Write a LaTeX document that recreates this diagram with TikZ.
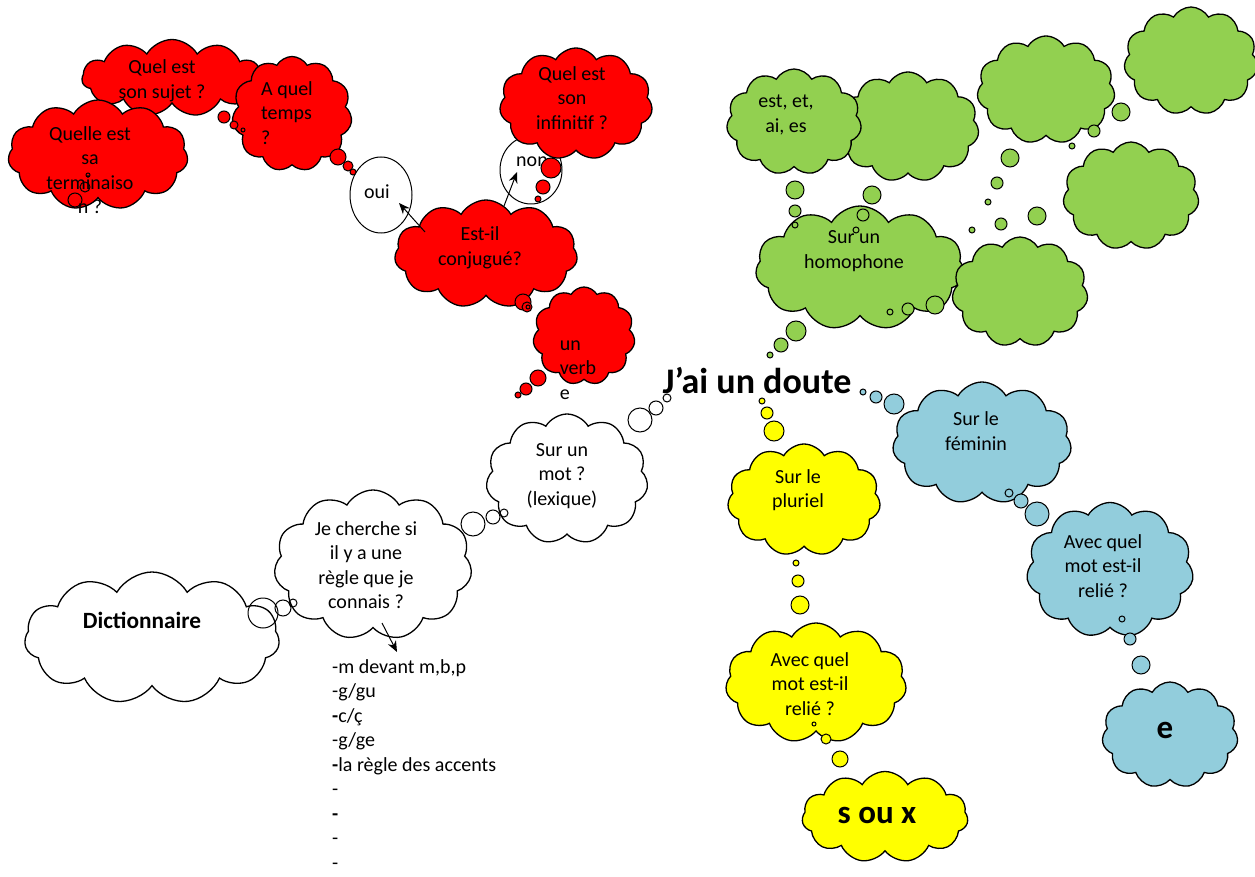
\documentclass[tikz,border=0pt]{standalone}
\usepackage{fontspec}
\setmainfont{Carlito}
\usetikzlibrary{shapes.symbols, shapes.geometric, arrows.meta}
\definecolor{cloudred}{RGB}{255,0,0}
\definecolor{cloudgreen}{RGB}{146,208,80}
\definecolor{cloudblue}{RGB}{146,205,220}
\definecolor{cloudyellow}{RGB}{255,255,0}
\tikzstyle{puff} = [cloud, cloud puffs=11, cloud puff arc=120, draw=black, line width=1.3pt, inner sep=0pt]
\tikzstyle{redpuff} = [puff, fill=cloudred]
\tikzstyle{greenpuff} = [puff, fill=cloudgreen]
\tikzstyle{bluepuff} = [puff, fill=cloudblue]
\tikzstyle{yellowpuff} = [puff, fill=cloudyellow]
\tikzstyle{whitepuff} = [puff, fill=white]
\tikzstyle{bubble} = [draw=black, line width=1pt]
\tikzstyle{txt} = [align=center, inner sep=0pt, font=\fontsize{20}{24.5}\selectfont]
\tikzstyle{bigtxt} = [inner sep=0pt, font=\fontsize{33}{38}\selectfont\bfseries]
\tikzstyle{arrow} = [line width=1pt,->,>={Stealth[length=11pt,width=9pt]}]

\begin{document}
\begin{tikzpicture}[x=1pt, y=-1pt]
\useasboundingbox (0,0) rectangle (1255,877);

% red branch
\node (sujet) [redpuff, minimum width=180pt, minimum height=77pt] at (172,78) {};
\node (temps) [redpuff, minimum width=120pt, minimum height=115pt] at (292,114) {};
\node (termin) [redpuff, minimum width=180pt, minimum height=110pt] at (98,155) {};
\node (oui) [ellipse, draw=black, line width=1pt, fill=white, minimum width=62pt, minimum height=76pt] at (381,195) {};
\node (non) [ellipse, draw=black, line width=1pt, fill=white, minimum width=62pt, minimum height=68pt] at (531,170) {};
\node (non-t) [txt] at (532,162) {non};
\node (infin) [redpuff, minimum width=153pt, minimum height=112pt] at (576,104) {};
\node (conj) [redpuff, minimum width=183pt, minimum height=108pt] at (486,254) {};
\node (verbe) [redpuff, minimum width=102pt, minimum height=98pt] at (584,336) {};
\foreach \x/\y/\r in {224/117/6, 234/125/4, 243/130/2, 338/157/8, 348/166/5, 353/172/3,
  75/200/7, 85/187/5, 88/175/2, 551/168/10, 543/187/7, 538/199/3,
  523/302/8, 527/307/5, 528/307/2, 538/378/8, 526/389/6, 518/395/3}
  \draw[bubble, fill=cloudred] (\x,\y) circle (\r);
\node (sujet-t) [txt] at (162,81) {Quel est\\son sujet ?};
\node (temps-t) [txt, align=left] at (287,113) {A quel\\temps\\?};
\node (termin-t) [txt] at (90,170) {Quelle est\\sa\\terminaiso\\n ?};
\node (infin-t) [txt] at (572,98) {Quel est\\son\\infinitif ?};
\node (oui-t) [txt] at (377,192) {oui};
\node (conj-t) [txt] at (480,248) {Est-il\\conjugué?};
\node (verbe-t) [txt, align=left] at (578,370) {un\\verb\\e};
\coordinate (oui-from) at (425,232);
\coordinate (oui-to) at (399,203);
\coordinate (non-from) at (504,206);
\coordinate (non-to) at (517,172);
\draw [arrow] (oui-from) -- (oui-to);
\draw [arrow] (non-from) -- (non-to);

% green branch
\node (vert2) [greenpuff, minimum width=142pt, minimum height=110pt] at (908,127) {};
\node (homo) [greenpuff, minimum width=135pt, minimum height=106pt] at (794,122) {};
\node (vert3) [greenpuff, minimum width=138pt, minimum height=108pt] at (1046,90) {};
\node (vert4) [greenpuff, minimum width=134pt, minimum height=108pt] at (1191,61) {};
\node (vert5) [greenpuff, minimum width=136pt, minimum height=108pt] at (1131,196) {};
\node (homophone) [greenpuff, minimum width=209pt, minimum height=124pt] at (860,268) {};
\node (vert7) [greenpuff, minimum width=136pt, minimum height=110pt] at (1020,292) {};
\foreach \x/\y/\r in {795/190/9, 795/211/6, 795/225/3, 872/195/9, 863/215/6, 856/230/3,
  1010/158/9, 997/183/6, 988/202/3, 1121/112/9, 1094/131/6, 1072/146/3,
  1037/216/9, 1001/224/6, 972/230/3, 935/305/9, 908/309/6, 890/312/3,
  796/331/10, 781/345/7, 770/355/3}
  \draw[bubble, fill=cloudgreen] (\x,\y) circle (\r);
\node (homo-t) [txt] at (786,115) {est, et,\\ai, es};
\node (homophone-t) [txt] at (854,251) {Sur un\\homophone};

% centre
\node (doute) [inner sep=0pt, font=\fontsize{36}{40}\selectfont\bfseries] at (757,381) {J’ai un doute};

% white branch
\node (lexique) [whitepuff, minimum width=162pt, minimum height=130pt] at (567,479) {};
\node (regle) [whitepuff, minimum width=198pt, minimum height=150pt] at (373,565) {};
\node (dico) [whitepuff, minimum width=255pt, minimum height=132pt] at (152,638) {};
\foreach \x/\y/\r in {640/420/12, 656/408/7, 667/398/4, 473/524/12, 493/517/7, 504/513/4,
  263/613/15, 283/608/8, 293/603/4}
  \draw[bubble] (\x,\y) circle (\r);
\node (lexique-t) [txt] at (562,476) {Sur un\\mot ?\\(lexique)};
\node (regle-t) [txt] at (366,565) {Je cherche si\\il y a une\\règle que je\\connais ?};
\node (dico-t) [inner sep=0pt, font=\fontsize{23.3}{28}\selectfont\bfseries] at (142,620) {Dictionnaire};
\node (liste) [txt, align=left, anchor=north west] at (332,659) {-m devant m,b,p\\-g/gu\\\textbf{-}c/ç\\-g/ge\\\textbf{-}la règle des accents\\-\\\textbf{-}\\-\\-};
\coordinate (liste-from) at (382,623);
\coordinate (liste-to) at (397,652);
\draw [arrow] (liste-from) -- (liste-to);

% yellow branch
\node (pluriel) [yellowpuff, minimum width=153pt, minimum height=112pt] at (804,500) {};
\node (relie1) [yellowpuff, minimum width=181pt, minimum height=120pt] at (816,683) {};
\node (soux) [yellowpuff, minimum width=166pt, minimum height=91pt] at (885,817) {};
\foreach \x/\y/\r in {762/401/3, 767/413/6, 774/431/10, 796/563/3, 798/581/6, 800/605/9,
  814/724/2, 826/739/5, 840/759/8}
  \draw[bubble, fill=cloudyellow] (\x,\y) circle (\r);
\node (pluriel-t) [txt] at (798,490) {Sur le\\pluriel};
\node (relie1-t) [txt] at (810,684) {Avec quel\\mot est-il\\relié ?};
\node (soux-t) [bigtxt] at (877,815) {s ou x};

% blue branch
\node (feminin) [bluepuff, minimum width=179pt, minimum height=122pt] at (982,443) {};
\node (relie2) [bluepuff, minimum width=167pt, minimum height=135pt] at (1110,570) {};
\node (e) [bluepuff, minimum width=136pt, minimum height=106pt] at (1170,735) {};
\foreach \x/\y/\r in {863/392/3, 876/397/6, 894/404/10, 1009/493/4, 1021/501/7, 1037/514/12,
  1122/619/3, 1130/639/6, 1141/665/9}
  \draw[bubble, fill=cloudblue] (\x,\y) circle (\r);
\node (feminin-t) [txt] at (976,431) {Sur le\\féminin};
\node (relie2-t) [txt] at (1103,566) {Avec quel\\mot est-il\\relié ?};
\node (e-t) [bigtxt] at (1165,730) {e};

\end{tikzpicture}
\end{document}
